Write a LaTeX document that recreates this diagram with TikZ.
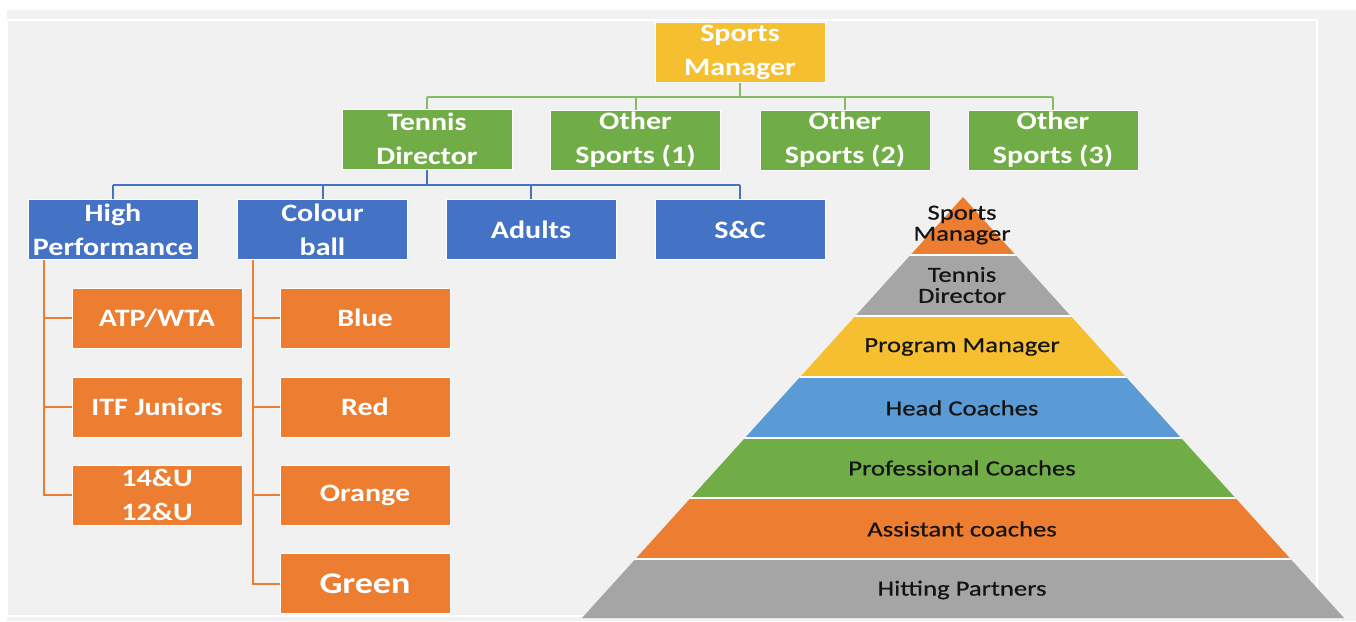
\documentclass[tikz,border=0pt]{standalone}
\usepackage{fontspec}
\setmainfont{Carlito}[FakeStretch=1.2]
\newfontfamily\pyrfont{Carlito}[FakeStretch=1.24, FakeBold=0.6]
\definecolor{bgc}{HTML}{F1F1F1}
\definecolor{ylw}{HTML}{F5BF2F}
\definecolor{grn}{HTML}{70AD47}
\definecolor{grnline}{HTML}{86BC63}
\definecolor{blu}{HTML}{4472C4}
\definecolor{org}{HTML}{ED7D31}
\definecolor{lblu}{HTML}{5B9BD5}
\definecolor{gry}{HTML}{A5A5A5}
\definecolor{txt}{HTML}{141414}
\tikzset{
  box/.style={draw=white, line width=1pt, minimum width=170pt, minimum height=60pt, inner sep=0pt, align=center, text=white, font=\fontsize{25}{34}\selectfont\bfseries},
  ybox/.style={box, fill=ylw},
  gbox/.style={box, fill=grn},
  bbox/.style={box, fill=blu},
  obox/.style={box, fill=org},
  gline/.style={draw=grnline, line width=2pt},
  bline/.style={draw=blu, line width=2pt},
  oline/.style={draw=org, line width=2pt},
  ptext/.style={align=center, text=txt, inner sep=0pt, font=\pyrfont\fontsize{21.5}{21}\selectfont}
}
\begin{document}
\begin{tikzpicture}[x=1pt, y=-1pt]
\useasboundingbox (0,0) rectangle (1356,621);
\fill[white] (0,0) rectangle (1356,621);
\fill[bgc] (7,10) rectangle (1356,621);
\draw[white, line width=1.5pt] (7,20) rectangle (1317,616);

% org chart nodes
\node[ybox] (sm) at (740,52) {Sports\\Manager};
\node[gbox] (td) at (427,139) {Tennis\\Director};
\node[gbox] (os1) at (635.5,140) {Other\\Sports (1)};
\node[gbox] (os2) at (845,140) {Other\\Sports (2)};
\node[gbox] (os3) at (1053,140) {Other\\Sports (3)};
\node[bbox] (hp) at (113,229.5) {High\\Performance};
\node[bbox] (cb) at (322.5,229.5) {Colour\\ball};
\node[bbox] (ad) at (531,229.5) {Adults};
\node[bbox] (sc) at (740,229.5) {S\&C};
\node[obox] (a1) at (157,318) {ATP/WTA};
\node[obox] (a2) at (157,407) {ITF Juniors};
\node[obox] (a3) at (157,495) {14\&U\\12\&U};
\node[obox] (b1) at (365,318) {Blue};
\node[obox] (b2) at (365,407) {Red};
\node[obox] (b3) at (365,495) {Orange};
\node[obox, font=\fontsize{30}{34}\selectfont\bfseries] (b4) at (365,583.5) {Green};

% connectors
\coordinate (gbus) at (0,97);
\coordinate (bbus) at (0,185);
\coordinate (lrail) at (44,0);
\coordinate (rrail) at (253,0);
\draw[gline] (sm.south) -- (sm.south |- gbus);
\draw[gline] (td.north |- gbus) -- (os3.north |- gbus);
\foreach \n in {td,os1,os2,os3} \draw[gline] (\n.north) -- (\n.north |- gbus);
\draw[bline] (td.south) -- (td.south |- bbus);
\draw[bline] (hp.north |- bbus) -- (sc.north |- bbus);
\foreach \n in {hp,cb,ad,sc} \draw[bline] (\n.north) -- (\n.north |- bbus);
\draw[oline] (lrail |- hp.south) -- (lrail |- a3.west) -- (a3.west);
\foreach \n in {a1,a2} \draw[oline] (lrail |- \n.west) -- (\n.west);
\draw[oline] (rrail |- cb.south) -- (rrail |- b4.west) -- (b4.west);
\foreach \n in {b1,b2,b3} \draw[oline] (rrail |- \n.west) -- (\n.west);

% pyramid
\begin{scope}
\clip (963,197) -- (1344,618) -- (582,618) -- cycle;
\fill[org] (570,190) rectangle (1360,255);
\fill[gry] (570,255) rectangle (1360,316);
\fill[ylw] (570,316) rectangle (1360,377);
\fill[lblu] (570,377) rectangle (1360,438);
\fill[grn] (570,438) rectangle (1360,498);
\fill[org] (570,498) rectangle (1360,559);
\fill[gry] (570,559) rectangle (1360,620);
\foreach \yy in {255,316,377,438,498,559} \draw[white, line width=2pt] (570,\yy) -- (1360,\yy);
\end{scope}
\node[ptext] (p1) at (962,225) {Sports\\Manager};
\node[ptext] (p2) at (962,285) {Tennis\\Director};
\node[ptext] (p3) at (962,347) {Program Manager};
\node[ptext] (p4) at (962,408) {Head Coaches};
\node[ptext] (p5) at (962,468) {Professional Coaches};
\node[ptext] (p6) at (962,529) {Assistant coaches};
\node[ptext] (p7) at (962,590) {Hitting Partners};
\end{tikzpicture}
\end{document}
